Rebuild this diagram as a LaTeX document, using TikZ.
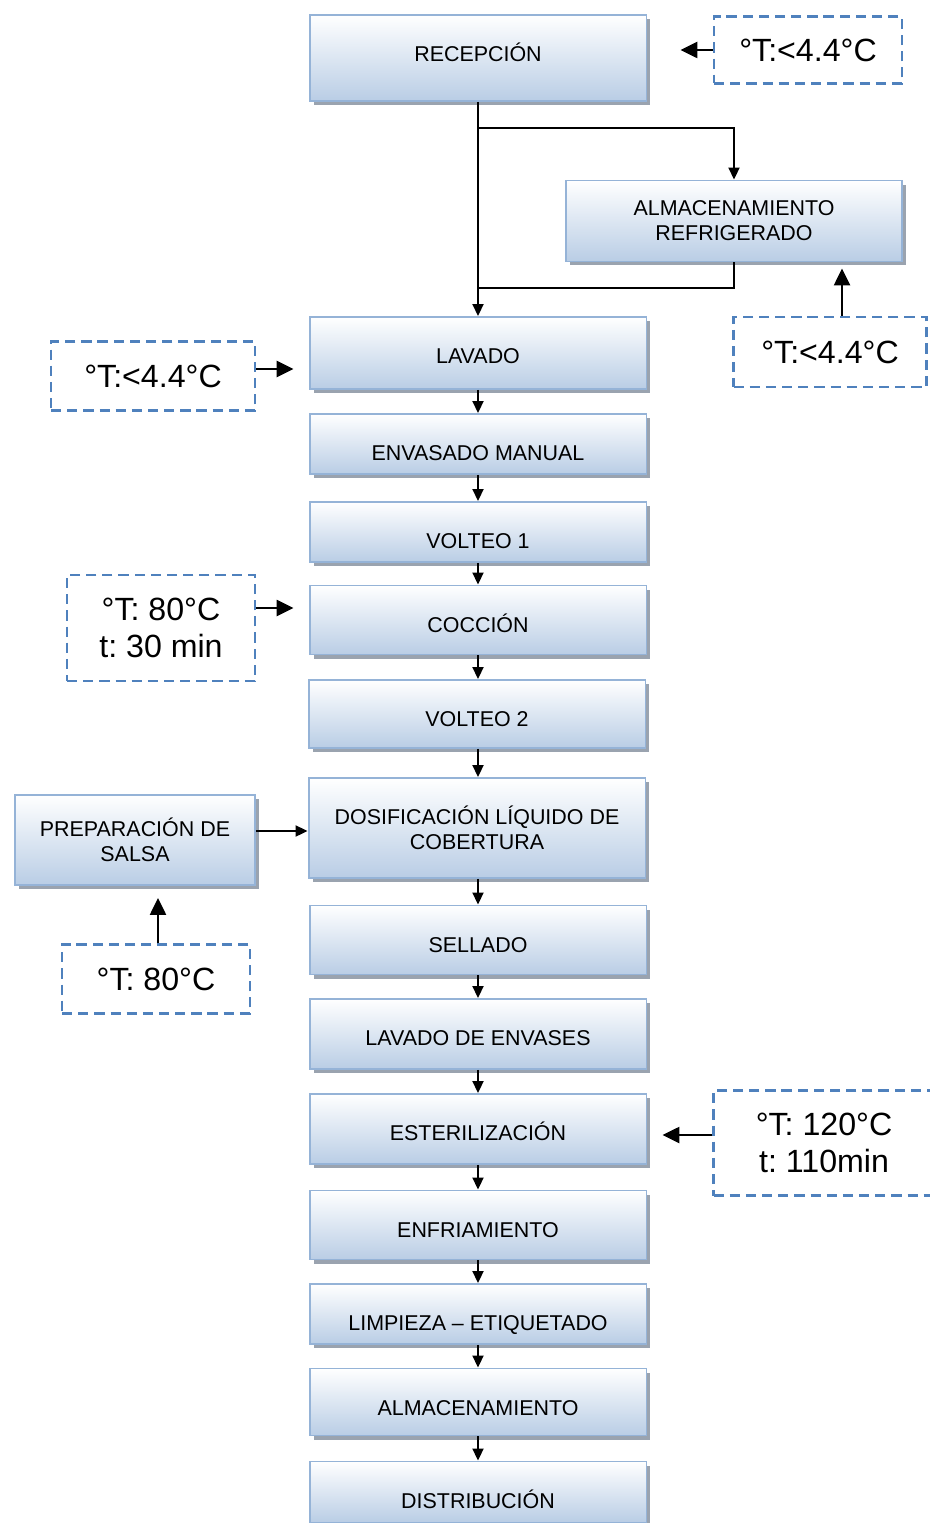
\documentclass[tikz,border=0pt]{standalone}
\usepackage{fontspec}
\setmainfont{Liberation Sans}
\usepackage{tikz}
\usetikzlibrary{arrows.meta,shadows}
\frenchspacing
\definecolor{StageEdge}{HTML}{95B3D7}
\definecolor{StageLow}{HTML}{B9CDE5}
\definecolor{NoteEdge}{HTML}{4F81BD}
\definecolor{ShadowGray}{HTML}{9AA3AF}
\tikzset{
  chart/.style={x=0.02cm,y=-0.02cm,line width=1.1pt},
  stage/.style={draw=StageEdge,line width=1.1pt,top color=white,bottom color=StageLow,
    align=center,inner sep=0pt,minimum width=6.74cm,
    font=\fontsize{12.2}{14.2}\selectfont,
    drop shadow={shadow xshift=0.08cm,shadow yshift=-0.08cm,fill=ShadowGray,opacity=1}},
  onerow/.style={minimum height=#1*0.02cm,text depth=0pt,text height={(93-#1)*0.02cm}},
  note/.style={draw=NoteEdge,line width=1.4pt,dash pattern=on 5.8pt off 3.4pt,
    align=center,inner sep=0pt,font=\fontsize{18.3}{21}\selectfont},
  flow/.style={-{Triangle[length=2.4mm,width=2.2mm]},line width=1.1pt},
  hint/.style={-{Triangle[length=3.4mm,width=3.2mm]},line width=1.4pt},
}
\begin{document}
\begin{tikzpicture}[chart]
  \useasboundingbox (0,0) rectangle (929,1523);

  % main line
  \node[stage,onerow=86] (recepcion) at (478,58) {RECEPCIÓN};
  \node[stage,minimum width=6.72cm,minimum height=1.62cm] (almRefrig) at (734,221)
    {ALMACENAMIENTO\\REFRIGERADO};
  \node[stage,onerow=72] (lavado) at (478,353) {LAVADO};
  \node[stage,onerow=60] (envasado) at (478,444) {ENVASADO MANUAL};
  \node[stage,onerow=60] (volteoA) at (478,532) {VOLTEO 1};
  \node[stage,onerow=69] (coccion) at (478,620) {COCCIÓN};
  \node[stage,onerow=68] (volteoB) at (477,714) {VOLTEO 2};
  \node[stage,minimum height=2.0cm] (dosificacion) at (477,828)
    {DOSIFICACIÓN LÍQUIDO DE\\COBERTURA};
  \node[stage,minimum width=4.8cm,minimum height=1.8cm] (salsa) at (135,840)
    {PREPARACIÓN DE\\SALSA};
  \node[stage,onerow=69] (sellado) at (478,940) {SELLADO};
  \node[stage,onerow=70] (lavEnvases) at (478,1034) {LAVADO DE ENVASES};
  \node[stage,onerow=70] (esterilizacion) at (478,1129) {ESTERILIZACIÓN};
  \node[stage,onerow=69] (enfriamiento) at (478,1225) {ENFRIAMIENTO};
  \node[stage,onerow=60] (etiquetado) at (478,1314) {LIMPIEZA – ETIQUETADO};
  \node[stage,onerow=67] (almacen) at (478,1402) {ALMACENAMIENTO};
  \node[stage,onerow=61] (distribucion) at (478,1492) {DISTRIBUCIÓN};

  % conditions
  \node[note,minimum width=3.76cm,minimum height=1.34cm] (tRecep) at (808,50) {°T:<4.4°C};
  \node[note,minimum width=3.86cm,minimum height=1.4cm] (tAlm) at (830,352) {°T:<4.4°C};
  \node[note,minimum width=4.08cm,minimum height=1.38cm] (tLavado) at (153,376) {°T:<4.4°C};
  \node[note,minimum width=3.76cm,minimum height=2.12cm] (tCoccion) at (161,628)
    {°T: 80°C\\t: 30 min};
  \node[note,minimum width=3.76cm,minimum height=1.38cm] (tSalsa) at (156,979) {°T: 80°C};
  \node[note,minimum width=4.42cm,minimum height=2.1cm] (tEster) at (824,1143)
    {°T: 120°C\\t: 110min};

  % connectors
  \coordinate (split) at (478,128);
  \coordinate (join) at (478,288);
  \draw[flow] (recepcion) -- (lavado);
  \draw[flow] (split) -| (almRefrig);
  \draw (almRefrig) |- (join);

  \draw[flow] (lavado) -- (envasado);
  \draw[flow] (envasado) -- (volteoA);
  \draw[flow] (volteoA) -- (coccion);
  \draw[flow] (coccion.south) -- (coccion.south |- volteoB.north);
  \draw[flow] (volteoB.south -| coccion.south) -- (coccion.south |- dosificacion.north);
  \draw[flow] (dosificacion.south -| sellado.north) -- (sellado);
  \draw[flow] (sellado) -- (lavEnvases);
  \draw[flow] (lavEnvases) -- (esterilizacion);
  \draw[flow] (esterilizacion) -- (enfriamiento);
  \draw[flow] (enfriamiento) -- (etiquetado);
  \draw[flow] (etiquetado) -- (almacen);
  \draw[flow] (almacen) -- (distribucion);

  \coordinate (salsaOut) at ([yshift=0.18cm]salsa.east);
  \draw[flow] (salsaOut) -- (dosificacion.west |- salsaOut);

  \coordinate (tRecepOut) at (tRecep.west);
  \coordinate (tAlmOut) at ([xshift=0.24cm]tAlm.north);
  \coordinate (tLavadoOut) at ([yshift=0.14cm]tLavado.east);
  \coordinate (tCoccionOut) at ([yshift=0.4cm]tCoccion.east);
  \coordinate (tSalsaOut) at ([xshift=0.04cm]tSalsa.north);
  \coordinate (tEsterOut) at ([yshift=0.16cm]tEster.west);
  \draw[hint,shorten >=0.66cm] (tRecepOut) -- (recepcion.east |- tRecepOut);
  \draw[hint,shorten >=0.12cm] (tAlmOut) -- (tAlmOut |- almRefrig.south);
  \draw[hint,shorten >=0.3cm] (tLavadoOut) -- (lavado.west |- tLavadoOut);
  \draw[hint,shorten >=0.3cm] (tCoccionOut) -- (coccion.west |- tCoccionOut);
  \draw[hint,shorten >=0.24cm] (tSalsaOut) -- (tSalsaOut |- salsa.south);
  \draw[hint,shorten >=0.3cm] (tEsterOut) -- (esterilizacion.east |- tEsterOut);
\end{tikzpicture}
\end{document}
